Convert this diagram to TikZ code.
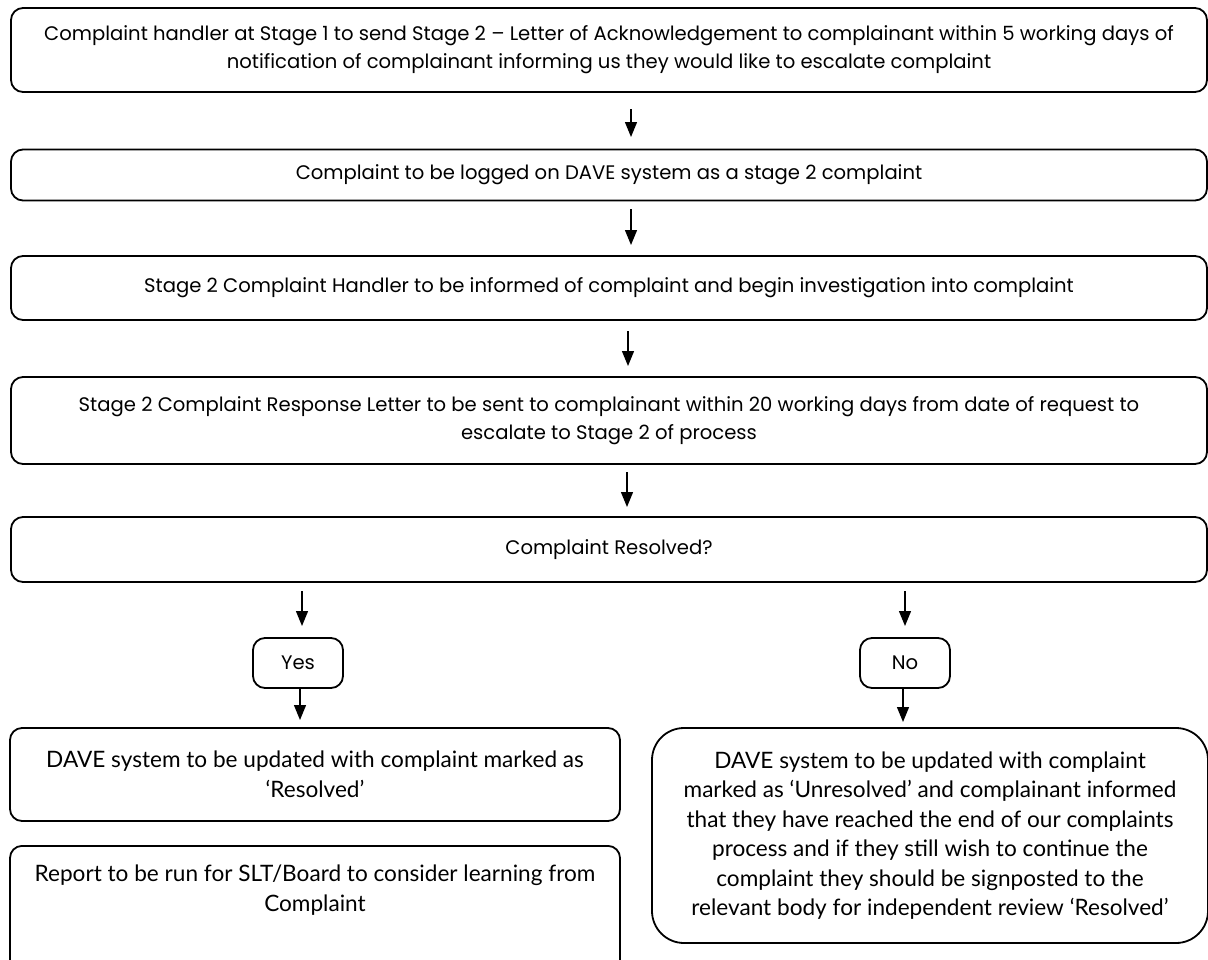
\documentclass[tikz,border=0pt]{standalone}
\usepackage{fontspec}
\setmainfont{Poppins}
\newfontfamily\lowfont{Lato}
\usetikzlibrary{arrows.meta}
\tikzset{
  x=1pt, y=-1pt,
  box/.style={draw, line width=1.8pt, rounded corners=12pt, align=center, inner sep=0pt,
     font=\fontsize{19.6}{28}\selectfont},
  lowbox/.style={box, font=\lowfont\fontsize{22.6}{29.5}\selectfont},
  flow/.style={-{Triangle[width=12pt,length=15pt]}, line width=1.3pt},
}
\begin{document}
\begin{tikzpicture}
\clip (0,0) rectangle (1208,959);
\useasboundingbox (0,0) rectangle (1208,959);
\node[box, minimum width=1196, minimum height=84] (b1) at (609,50)
  {Complaint handler at Stage 1 to send Stage 2 – Letter of Acknowledgement to complainant within 5 working days of\\
   notification of complainant informing us they would like to escalate complaint};
\node[box, minimum width=1196, minimum height=51] (b2) at (609,175)
  {Complaint to be logged on DAVE system as a stage 2 complaint};
\node[box, minimum width=1196, minimum height=64] (b3) at (609,288)
  {Stage 2 Complaint Handler to be informed of complaint and begin investigation into complaint};
\node[box, minimum width=1196, minimum height=87] (b4) at (609,420.5)
  {Stage 2 Complaint Response Letter to be sent to complainant within 20 working days from date of request to\\
   escalate to Stage 2 of process};
\node[box, minimum width=1196, minimum height=65] (b5) at (609,549.5)
  {Complaint Resolved?};
\node[box, minimum width=90, minimum height=50] (yes) at (298,663) {Yes};
\node[box, minimum width=90, minimum height=50] (no) at (905,663) {No};
\node[lowbox, minimum width=610, minimum height=93] (d1) at (315,774.5)
  {DAVE system to be updated with complaint marked as\\ ‘Resolved’};
\node[lowbox, anchor=north] (d2) at (315,845)
  {\parbox[t][128pt][t]{610pt}{\centering\vspace{19pt}Report to be run for SLT/Board to consider learning from\\ Complaint}};
\node[lowbox, rounded corners=32pt, minimum width=556, minimum height=215] (d3) at (930,835.5)
  {DAVE system to be updated with complaint\\
   marked as ‘Unresolved’ and complainant informed\\
   that they have reached the end of our complaints\\
   process and if they still wish to continue the\\
   complaint they should be signposted to the\\
   relevant body for independent review ‘Resolved’};
\coordinate (a1s) at (631,109); \coordinate (a1e) at (631,137);
\coordinate (a2s) at (631,209); \coordinate (a2e) at (631,245);
\coordinate (a3s) at (628,331); \coordinate (a3e) at (628,366);
\coordinate (a4s) at (627,472); \coordinate (a4e) at (627,507);
\coordinate (a5s) at (302,591); \coordinate (a5e) at (302,626);
\coordinate (a6s) at (905,591); \coordinate (a6e) at (905,626);
\coordinate (a7e) at (300,720);
\coordinate (a8e) at (903,722);
\draw[flow] (a1s) -- (a1e);
\draw[flow] (a2s) -- (a2e);
\draw[flow] (a3s) -- (a3e);
\draw[flow] (a4s) -- (a4e);
\draw[flow] (a5s) -- (a5e);
\draw[flow] (a6s) -- (a6e);
\draw[flow] (yes.south -| a7e) -- (a7e);
\draw[flow] (no.south -| a8e) -- (a8e);
\end{tikzpicture}
\end{document}
